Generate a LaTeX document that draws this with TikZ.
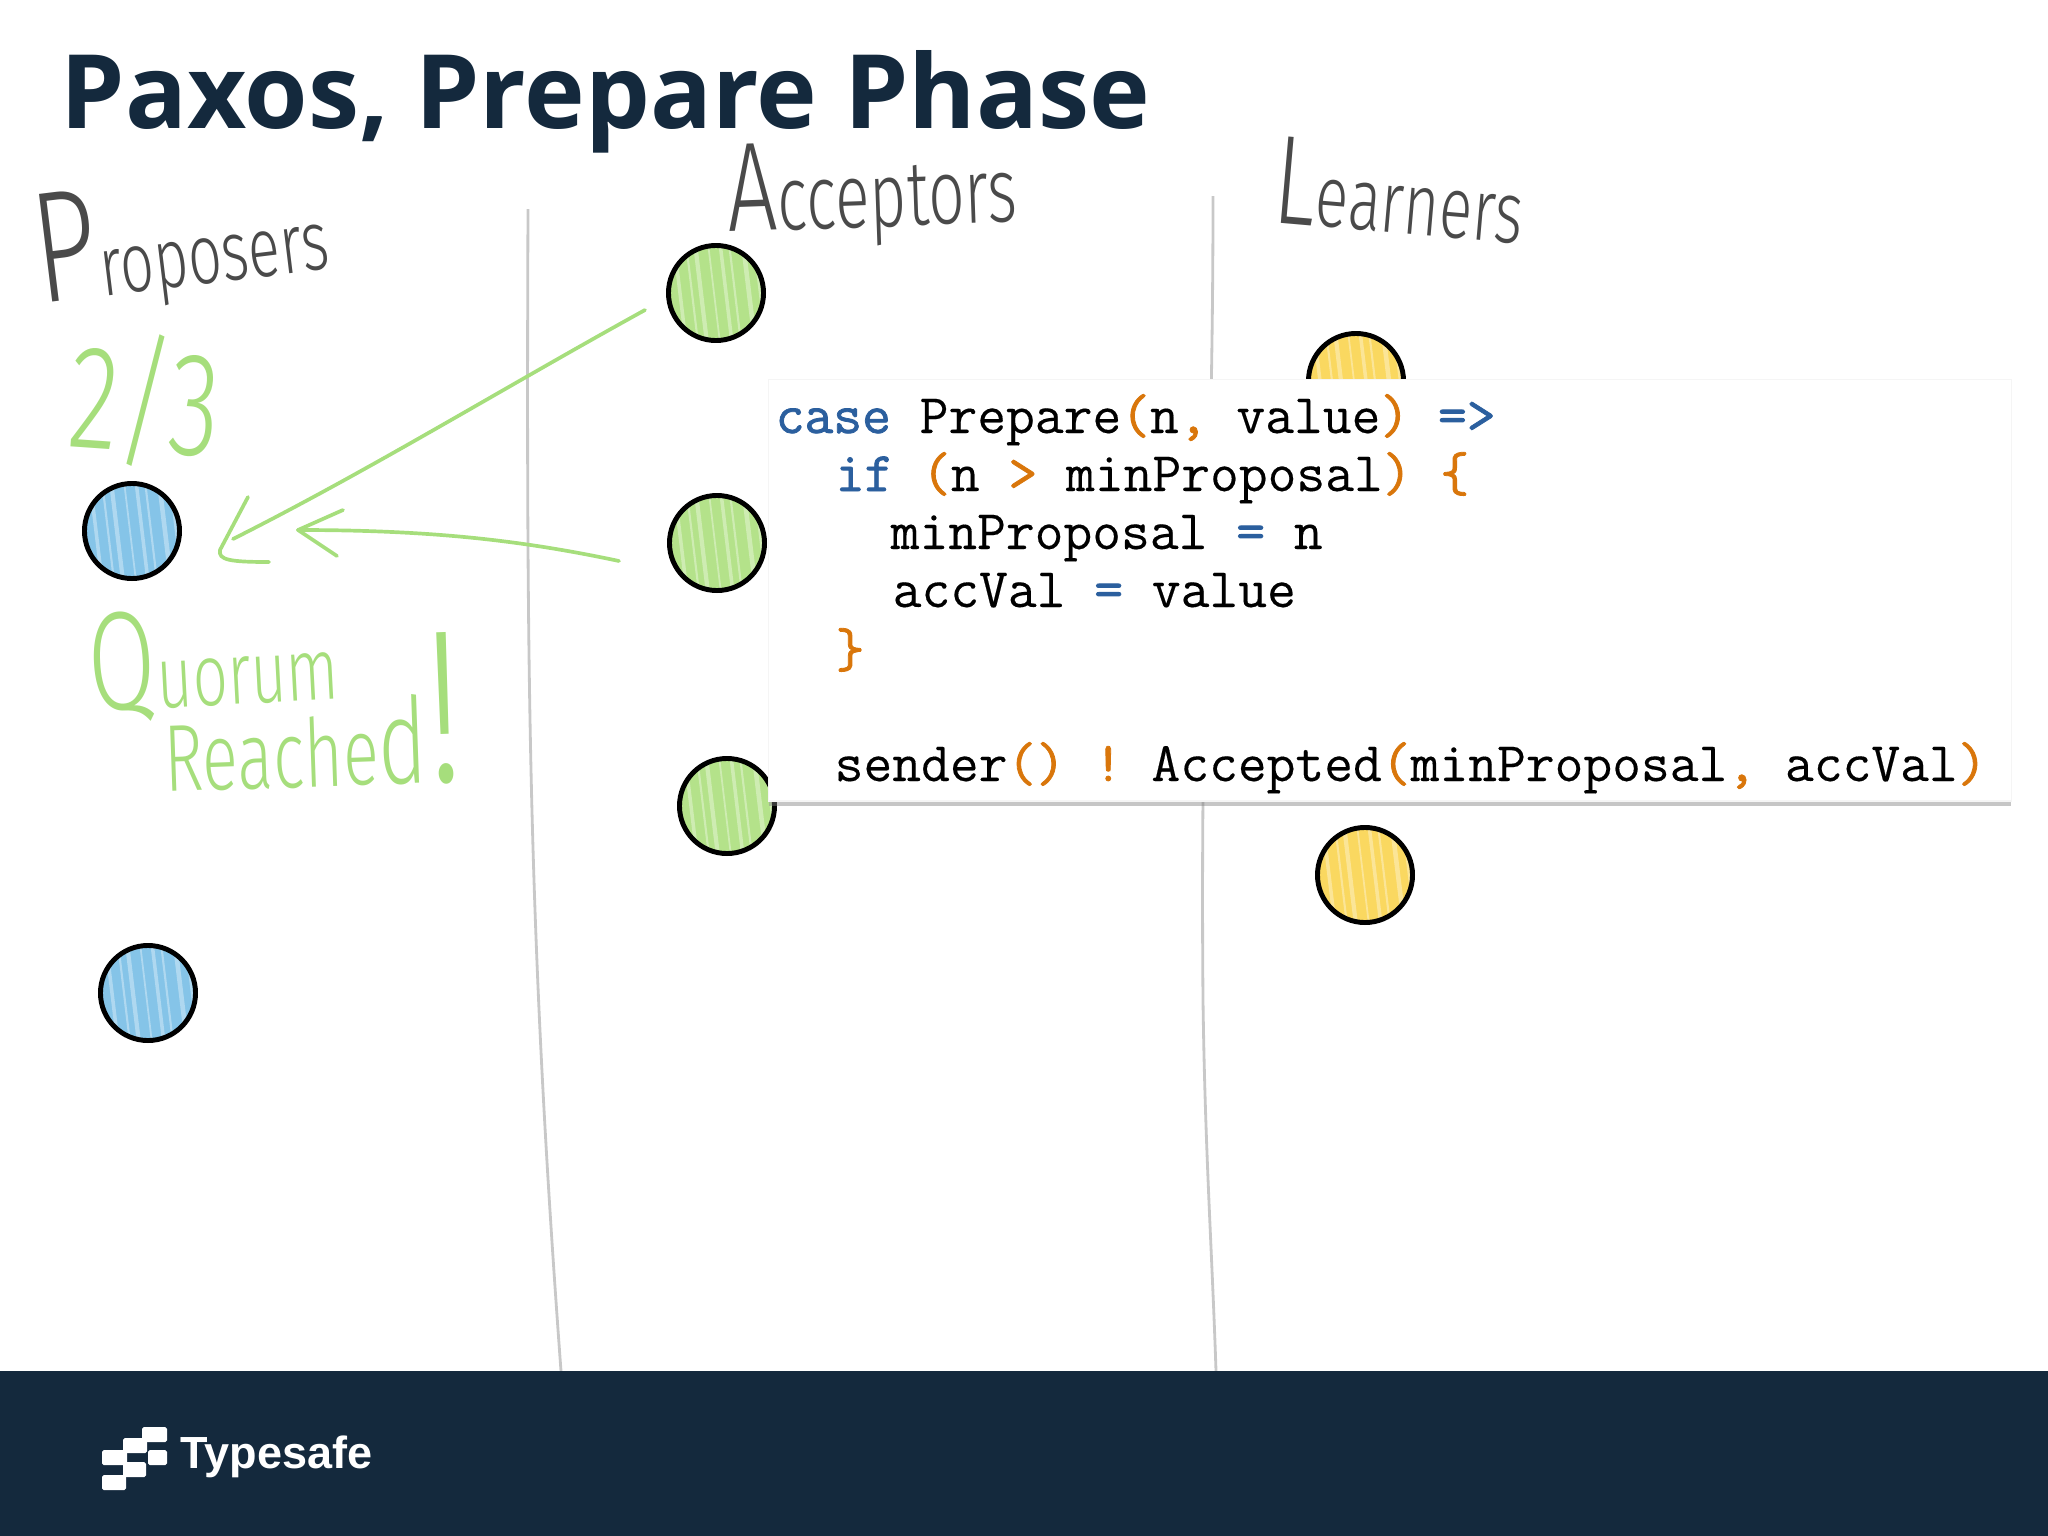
\documentclass[tikz,border=0pt]{standalone}
\usepackage{fontspec}
\usetikzlibrary{shadows}
\setmainfont{Open Sans}
\setmonofont{Latin Modern Mono}[FakeBold=0.25]
\newfontfamily\codebold{Latin Modern Mono}[FakeBold=1.4]
\newfontfamily\handfont{Fira Sans Light}[FakeStretch=0.7]
\newfontfamily\logofont{Liberation Sans}
\definecolor{navy}{HTML}{14293D}
\definecolor{inkgray}{HTML}{4A4A4A}
\definecolor{inkgreen}{HTML}{A6DE7C}
\definecolor{rulegray}{HTML}{C8C8C8}
\definecolor{kwblue}{HTML}{2B5F9E}
\definecolor{punctorange}{HTML}{D9760B}
\definecolor{ballblue}{HTML}{85C4E8}
\definecolor{ballgreen}{HTML}{B4E28A}
\definecolor{ballyellow}{HTML}{FAD860}
\newcommand{\kw}[1]{\textcolor{kwblue}{\codebold #1}}
\newcommand{\pn}[1]{\textcolor{punctorange}{\codebold #1}}
\tikzset{
  ball/.style={circle,draw=black,line width=1.4pt,minimum size=0.95cm,inner sep=0pt,fill=#1,
    path picture={\foreach \hx/\hw in {-42/1,-30/.6,-21/1.2,-8/.5,4/1,13/.6,27/1.3,38/.7}
      \draw[white,opacity=.35,line width=\hw pt] (path picture bounding box.center)++(\hx,-50)--++(12,100);}},
  hand/.style={font=\handfont\fontsize{#1}{#1}\selectfont,inner sep=0pt},
  codeline/.style={anchor=base west,inner sep=0pt,font=\ttfamily\fontsize{15.9}{15.9}\selectfont},
  sketch/.style={inkgreen,line width=1.05pt,line cap=round,line join=round}
}
\begin{document}
\begin{tikzpicture}[x=0.01cm,y=-0.01cm]
  \useasboundingbox (0,0) rectangle (2048,1536);
  % lane rules
  \draw[rulegray,line width=.8pt] (528,209) .. controls (526,700) and (530,950) .. (561,1371);
  \draw[rulegray,line width=.8pt] (1213,196) .. controls (1213,500) and (1200,650) .. (1203,1000) .. controls (1205,1150) and (1212,1250) .. (1216,1371);
  % footer and title
  \fill[navy] (0,1371) rectangle (2048,1536);
  \node[anchor=base west,inner sep=0pt,text=navy,font=\bfseries\fontsize{29.2}{29.2}\selectfont] (title) at (60,128) {Paxos, Prepare Phase};
  % column headings
  \node[hand=24,text=inkgray,rotate=7,anchor=base west] (proposers) at (40,304) {{\fontsize{45}{45}\selectfont P}roposers};
  \node[hand=26,text=inkgray,rotate=2,anchor=base west] (acceptors) at (728,232) {{\fontsize{36}{36}\selectfont A}cceptors};
  \node[hand=25,text=inkgray,rotate=-5,anchor=base west] (learners) at (1271,222) {{\fontsize{36}{36}\selectfont L}earners};
  % balls
  \node[ball=ballblue] (prop1) at (132,531) {};
  \node[ball=ballblue] (prop2) at (148,993) {};
  \node[ball=ballgreen] (acc1) at (716,293) {};
  \node[ball=ballgreen] (acc2) at (717,543) {};
  \node[ball=ballgreen] (acc3) at (727,806) {};
  \node[ball=ballyellow] (lrn1) at (1356,381) {};
  \node[ball=ballyellow] (lrn2) at (1365,875) {};
  % green notes
  \node[hand=42,text=inkgreen,rotate=-4] (twothirds) at (145,400) {2/3};
  \node[hand=25,text=inkgreen,rotate=3,anchor=base west] (quorum) at (90,712) {{\fontsize{40}{40}\selectfont Q}uorum};
  \node[hand=27,text=inkgreen,rotate=2,anchor=base west] (reached) at (165,792) {Reache{\fontsize{34}{34}\selectfont d}{\fontsize{62}{62}\selectfont !}};
  % arrows
  \coordinate (ackOne) at (645,310);
  \coordinate (tipOne) at (233,539);
  \coordinate (ackTwo) at (619,561);
  \coordinate (tipTwo) at (298,530);
  \draw[sketch] (ackOne) .. controls (500,390) and (370,470) .. (tipOne);
  \draw[sketch] (248,497) -- (220,550) .. controls (218,560) and (230,562) .. (269,562);
  \draw[sketch] (ackTwo) .. controls (520,540) and (430,530) .. (tipTwo);
  \draw[sketch] (343,510) -- (tipTwo) -- (337,556);
  % code panel
  \node[anchor=north west,draw=black!4,fill=white,minimum width=12.42cm,minimum height=4.21cm,inner sep=0pt,
    drop shadow={shadow xshift=0pt,shadow yshift=-1.5pt,opacity=.45}] (panel) at (768,379) {};
  \node[codeline] (code1) at (775,433) {\kw{case} Prepare\pn{(}n\pn{,} value\pn{)} \kw{=>}};
  \node[codeline] (code2) at (835,491) {\kw{if} \pn{(}n \pn{>} minProposal\pn{)} \pn{\{}};
  \node[codeline] (code3) at (890,549) {minProposal \kw{=} n};
  \node[codeline] (code4) at (892,607) {accVal \kw{=} value};
  \node[codeline] (code5) at (835,667) {\pn{\}}};
  \node[codeline] (code6) at (834,781) {sender\pn{()} \pn{!} Accepted\pn{(}minProposal\pn{,} accVal\pn{)}};
  % logo
  \foreach \lx/\ly/\lw in {142/1427/25,123/1438/24,102/1450/25,148/1450/19,123/1462/23,102/1475/24}
    \fill[white,rounded corners=.5pt] (\lx,\ly) rectangle ++(\lw,15);
  \node[anchor=base west,inner sep=0pt,text=white,font=\logofont\bfseries\fontsize{12.8}{12.8}\selectfont] (typesafe) at (180,1468) {Typesafe};
\end{tikzpicture}
\end{document}
